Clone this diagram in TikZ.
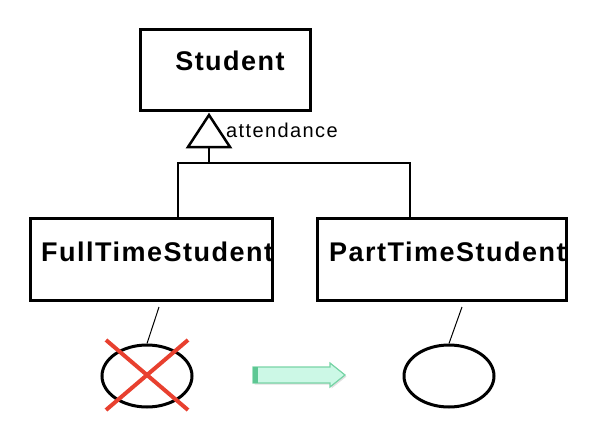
\documentclass[tikz,border=0pt]{standalone}
\usepackage{fontspec}
\setmainfont{Liberation Sans}
\usetikzlibrary{shapes.geometric,shadows}
\definecolor{crossred}{HTML}{E8402F}
\definecolor{arrowfill}{HTML}{CCF8E6}
\definecolor{arrowline}{HTML}{78D4A6}
\definecolor{arrowstrip}{HTML}{5DC793}
\newfontfamily\classfont[LetterSpace=5.5]{Liberation Sans Bold}
\newfontfamily\labelfont[LetterSpace=7]{Liberation Sans}
\tikzset{
  classbox/.style={draw, line width=3pt, minimum width=#1, inner sep=0pt, fill=white},
  classarea/.style={minimum width=#1, inner sep=0pt, fill=white},
  classname/.style={font=\classfont\fontsize{27}{30}\selectfont, inner sep=0pt, anchor=west},
  genline/.style={line width=2pt},
  thinline/.style={line width=1pt},
  objoval/.style={draw, ellipse, line width=3pt, minimum width=90pt, minimum height=62pt, inner sep=0pt},
  crossline/.style={crossred, line width=4pt},
}
\begin{document}
\begin{tikzpicture}[x=1pt,y=-1pt]
\useasboundingbox (0,0) rectangle (608,434);
% class boxes
\node[classbox=170pt, minimum height=81pt] (student) at (225,69.5) {};
\node[classarea=241pt, minimum height=81pt] (full) at (151.5,259.5) {};
\node[classarea=248pt, minimum height=81pt] (part) at (442,259.5) {};
% class names (clipped at the box's right edge)
\node[classname, anchor=center] (studentname) at (230,61) {Student};
\begin{scope}
  \clip (31,219) rectangle (272,300);
  \node[classname] (fullname) at (41,252) {FullTimeStudent};
\end{scope}
\begin{scope}
  \clip (318,219) rectangle (566,300);
  \node[classname] (partname) at (329,252) {PartTimeStudent};
\end{scope}
\draw[line width=3pt] (full.north west) rectangle (full.south east);
\draw[line width=3pt] (part.north west) rectangle (part.south east);
% generalization triangle
\coordinate (apex) at (209,115);
\coordinate (tribase) at (209,147);
\coordinate (junc) at (209,163);
\coordinate (fulltop) at (178,219);
\coordinate (parttop) at (410,219);
\draw[line width=2.5pt, line join=miter] (apex) -- ++(-21,32) -- ++(42,0) -- cycle;
\draw[genline] (tribase) -- (junc);
\draw[genline] (junc) -| (fulltop);
\draw[genline] (junc) -| (parttop);
\node[font=\labelfont\fontsize{20}{24}\selectfont, inner sep=0pt, anchor=west] (att) at (226,130) {attendance};
% objects
\node[objoval] (fobj) at (147,376) {};
\node[objoval] (pobj) at (449,376) {};
\coordinate (fstart) at (159,307);
\coordinate (pstart) at (462,307);
\draw[thinline] (fstart) -- (fobj.north);
\draw[thinline] (pstart) -- (pobj.north);
% red cross
\coordinate (xa) at (106,340);
\coordinate (xb) at (188,410);
\coordinate (xc) at (188,340);
\coordinate (xd) at (106,410);
\draw[crossline] (xa) -- (xb);
\draw[crossline] (xc) -- (xd);
% green arrow
\coordinate (arrowtail) at (253,375);
\draw[arrowline, fill=arrowfill, line width=1.2pt, line join=miter,
      drop shadow={shadow xshift=1.5pt, shadow yshift=-1.5pt, opacity=0.25}]
  (arrowtail) ++(0,-8) -- ++(77,0) -- ++(0,-4) -- ++(15,12) -- ++(-15,12) -- ++(0,-4) -- ++(-77,0) -- cycle;
\fill[arrowstrip] (arrowtail) ++(0,-8) rectangle ++(5,16);
\end{tikzpicture}
\end{document}
